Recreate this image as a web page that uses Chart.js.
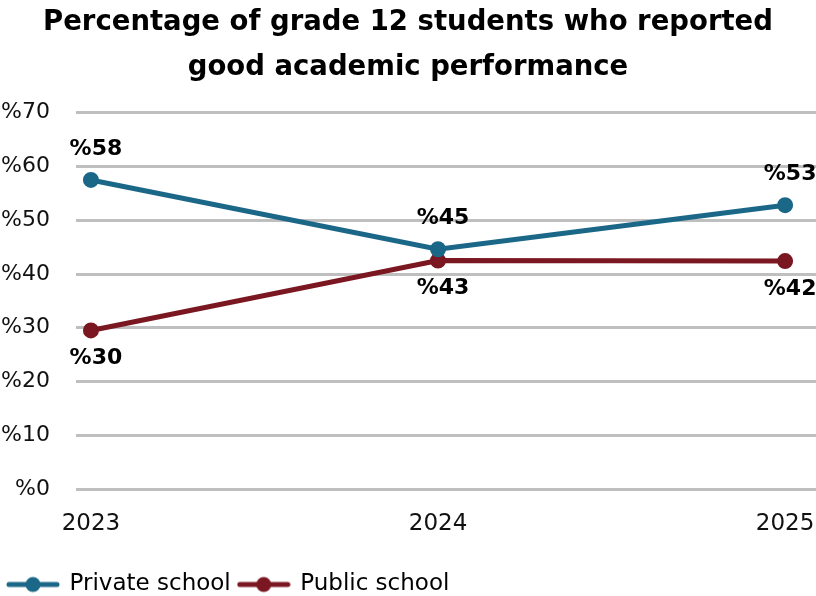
<!DOCTYPE html>
<html>
<head>
<meta charset="utf-8">
<script src="https://cdn.jsdelivr.net/npm/chart.js@4.4.1/dist/chart.umd.min.js"></script>
<style>
  html, body { margin: 0; padding: 0; background: #ffffff; }
  #wrap { width: 816px; height: 596px; position: relative; }
</style>
</head>
<body>
<div id="wrap"><canvas id="c"></canvas></div>
<script>
// ---- data ----
const years = ['2023', '2024', '2025'];
const privateSchool = [57.5, 44.6, 52.8];
const publicSchool = [29.5, 42.5, 42.4];
const yTicks = [0, 10, 20, 30, 40, 50, 60, 70];
const seriesNames = ['Private school', 'Public school'];
const titleLines = ['Percentage of grade 12 students who reported', 'good academic performance'];

const BLUE = '#1b6787';
const RED = '#7a1720';
const FONT = "'DejaVu Sans', 'Open Sans', sans-serif";

function legendMarker(color) {
  const cv = document.createElement('canvas');
  cv.width = 54; cv.height = 18;
  const g = cv.getContext('2d');
  g.strokeStyle = color; g.lineWidth = 5; g.lineCap = 'round';
  g.beginPath(); g.moveTo(3, 9); g.lineTo(51, 9); g.stroke();
  g.fillStyle = color;
  g.beginPath(); g.arc(27, 9, 7.5, 0, Math.PI * 2); g.fill();
  return cv;
}
const markers = [legendMarker(BLUE), legendMarker(RED)];

const valueLabels = {
  id: 'valueLabels',
  afterDatasetsDraw(chart) {
    const ctx = chart.ctx;
    ctx.save();
    ctx.font = "bold 22px " + FONT;
    ctx.fillStyle = '#000000';
    ctx.textAlign = 'center';
    ctx.textBaseline = 'middle';
    chart.data.datasets.forEach((ds, di) => {
      const meta = chart.getDatasetMeta(di);
      meta.data.forEach((pt, i) => {
        const v = ds.data[i].y;
        const dy = ds.labelPos === 'above' ? -31 : 28;
        ctx.fillText('%' + Math.round(v), pt.x + 5, pt.y + dy);
      });
    });
    ctx.restore();
  }
};

new Chart(document.getElementById('c'), {
  type: 'line',
  data: {
    datasets: [
      {
        label: seriesNames[0],
        data: years.map((y, i) => ({ x: Number(y), y: privateSchool[i] })),
        borderColor: BLUE, backgroundColor: BLUE,
        borderWidth: 5, pointRadius: 7, pointBorderWidth: 2,
        pointBackgroundColor: BLUE, pointBorderColor: BLUE,
        tension: 0, labelPos: 'above'
      },
      {
        label: seriesNames[1],
        data: years.map((y, i) => ({ x: Number(y), y: publicSchool[i] })),
        borderColor: RED, backgroundColor: RED,
        borderWidth: 5, pointRadius: 7, pointBorderWidth: 2,
        pointBackgroundColor: RED, pointBorderColor: RED,
        tension: 0, labelPos: 'below'
      }
    ]
  },
  options: {
    responsive: true,
    maintainAspectRatio: false,
    animation: false,
    layout: { autoPadding: false, padding: { left: 0, right: 0, top: 0, bottom: -10 } },
    plugins: {
      title: {
        display: true,
        text: titleLines,
        color: '#000000',
        font: { family: FONT, size: 27.5, weight: 'bold', lineHeight: 1.65 },
        padding: { top: 0, bottom: 22 }
      },
      legend: {
        display: true,
        position: 'bottom',
        align: 'start',
        labels: {
          usePointStyle: true,
          pointStyleWidth: 50,
          padding: 8,
          color: '#000000',
          font: { family: FONT, size: 23 },
          generateLabels(chart) {
            return chart.data.datasets.map((ds, i) => ({
              text: ds.label,
              fillStyle: ds.borderColor,
              strokeStyle: ds.borderColor,
              fontColor: '#000000',
              pointStyle: markers[i],
              lineWidth: 0,
              hidden: false,
              datasetIndex: i
            }));
          }
        }
      },
      tooltip: { enabled: false }
    },
    scales: {
      x: {
        type: 'linear',
        min: 2022.957,
        max: 2025.089,
        grid: { display: false },
        border: { display: false },
        afterBuildTicks(scale) { scale.ticks = years.map(y => ({ value: Number(y) })); },
        afterFit(scale) { scale.height = 76; scale.paddingLeft = 0; scale.paddingRight = 0; },
        ticks: {
          autoSkip: false,
          maxRotation: 0,
          padding: 13,
          color: '#111111',
          font: { family: FONT, size: 23 },
          callback: (v) => String(v)
        }
      },
      y: {
        min: 0,
        max: 70,
        afterBuildTicks(scale) { scale.ticks = yTicks.map(v => ({ value: v })); },
        afterFit(scale) { scale.width = 76; },
        grid: { color: '#bfbfbf', lineWidth: 3, drawTicks: false },
        border: { display: false },
        ticks: {
          padding: 26,
          color: '#111111',
          font: { family: FONT, size: 22 },
          callback: (v) => '%' + v
        }
      }
    }
  },
  plugins: [valueLabels]
});
</script>
</body>
</html>
